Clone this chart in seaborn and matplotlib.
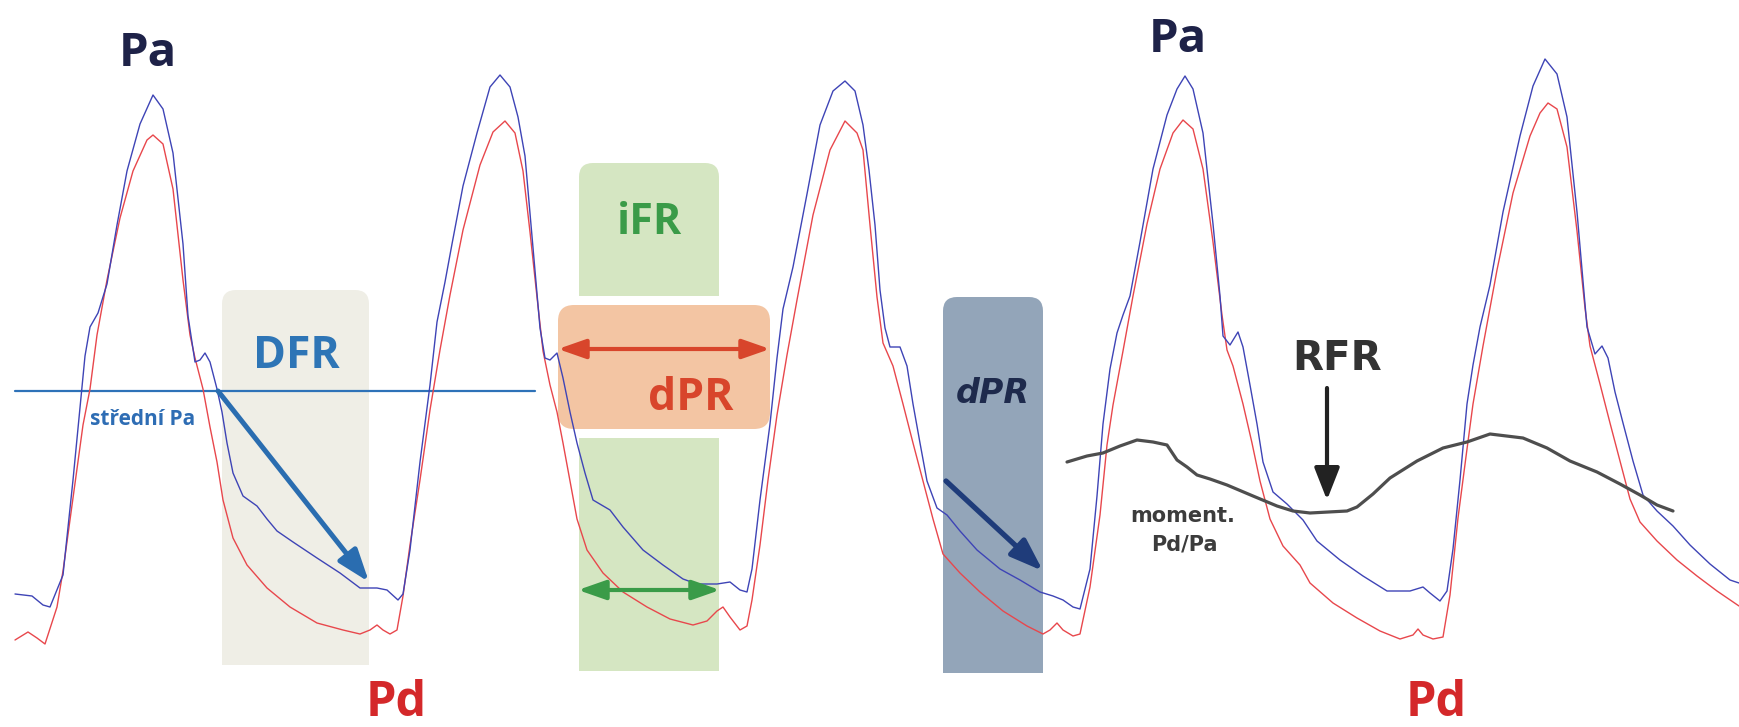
import matplotlib
matplotlib.use('Agg')
import matplotlib.pyplot as plt
from matplotlib.patches import FancyBboxPatch, Rectangle
import pandas as pd
import seaborn as sns

# Traces, in image pixels (x right, y down)
pa_x = [15, 32, 43, 50, 63, 73, 80, 85, 90, 98, 107, 117, 127, 140, 153, 163, 173, 183, 188,
        195, 200, 205, 210, 217, 222, 227, 233, 243, 257, 267, 277, 293, 317, 340, 360, 377, 387,
        398, 403, 410, 420, 430, 437, 445, 452, 463, 477, 490, 500, 510, 518, 525, 530, 535, 540, 545, 550,
        557, 563, 570, 577, 585, 593, 610, 623, 643, 663, 683, 697, 717, 730, 740, 747, 752, 760, 770, 777,
        783, 793, 807, 820, 833, 845, 855, 863, 869, 875, 880, 885, 890, 900, 907, 913, 920, 927, 937, 947,
        960, 977, 1000, 1020, 1040, 1053, 1063, 1073, 1080, 1090, 1097, 1103, 1110, 1117, 1123, 1130, 1140, 1153, 1167, 1177, 1185,
        1193, 1203, 1213, 1220, 1223, 1230, 1238, 1243, 1250, 1257, 1263, 1273, 1287, 1303, 1317, 1340, 1363, 1387, 1410, 1423,
        1430, 1440, 1447, 1453, 1460, 1467, 1473, 1480, 1490, 1503, 1520, 1533, 1545, 1557, 1567, 1577,
        1587, 1595, 1602, 1608, 1615, 1623, 1633, 1643, 1657, 1673, 1690, 1710, 1730, 1739]
pa_y = [594, 596, 605, 607, 575, 480, 407, 356, 327, 313, 284, 225, 171, 124, 95, 109, 153, 244, 316,
        362, 360, 353, 362, 389, 412, 443, 473, 496, 506, 519, 531, 542, 558, 573, 588, 588, 590,
        600, 594, 550, 462, 385, 322, 282, 244, 186, 133, 87, 75, 87, 117, 156, 213, 270, 328, 358, 360,
        353, 378, 412, 443, 473, 500, 510, 527, 550, 565, 579, 584, 584, 582, 590, 592, 569, 500, 424, 358,
        309, 267, 194, 125, 91, 81, 91, 125, 170, 225, 290, 328, 347, 347, 366, 404, 443, 481, 508, 515,
        531, 550, 569, 580, 592, 596, 600, 607, 609, 569, 496, 424, 369, 333, 315, 296, 242, 169, 115, 89, 76,
        89, 133, 224, 296, 336, 345, 332, 347, 385, 424, 462, 492, 504, 520, 541, 560, 576, 591, 591, 587,
        593, 601, 591, 549, 480, 404, 365, 327, 285, 212, 136, 86, 59, 74, 117, 212,
        327, 354, 346, 358, 392, 423, 461, 495, 511, 526, 545, 564, 580, 583]

pd_x = [15, 28, 37, 45, 57, 63, 73, 83, 90, 97, 107, 120, 133, 147, 153, 163, 173, 183, 190,
        195, 203, 210, 217, 223, 233, 247, 267, 290, 317, 343, 360, 370, 377, 383, 390, 397, 403, 410, 420, 430, 440,
        450, 463, 480, 493, 505, 515, 523, 530, 537, 543, 550, 557, 563, 570, 577, 587, 603, 623, 647, 670,
        693, 707, 717, 723, 730, 740, 747, 752, 760, 768, 777, 787, 797, 813, 830, 845, 857, 863, 870, 877,
        883, 893, 903, 913, 923, 933, 943, 960, 980, 1003, 1027, 1043, 1050, 1057, 1063, 1073, 1080, 1090, 1100, 1107,
        1113, 1123, 1133, 1147, 1160, 1173, 1183, 1193, 1203, 1213, 1222, 1227, 1233, 1243, 1252, 1260, 1270, 1283, 1300, 1310, 1333,
        1357, 1380, 1400, 1413, 1418, 1423, 1433, 1443, 1450, 1458, 1467, 1473, 1483, 1497, 1513, 1530, 1540, 1548, 1557, 1567,
        1577, 1585, 1590, 1600, 1610, 1620, 1630, 1640, 1657, 1677, 1697, 1717, 1739]
pd_y = [640, 632, 638, 644, 607, 571, 498, 425, 389, 335, 280, 218, 171, 140, 135, 144, 189, 280, 335,
        358, 389, 427, 462, 500, 538, 565, 588, 607, 623, 630, 634, 630, 625, 630, 634, 630, 596, 545, 480, 410, 350,
        295, 230, 165, 132, 121, 133, 171, 232, 297, 351, 385, 412, 443, 481, 519, 550, 573, 592, 607, 619,
        625, 621, 611, 607, 617, 630, 626, 600, 545, 480, 415, 355, 300, 215, 150, 121, 133, 150, 225, 297,
        343, 366, 404, 443, 481, 519, 554, 573, 592, 611, 626, 634, 630, 623, 630, 636, 634, 587, 515, 445,
        405, 351, 296, 224, 169, 133, 120, 129, 169, 242, 315, 350, 366, 404, 443, 481, 519, 546, 565, 583, 603,
        618, 631, 639, 635, 629, 635, 639, 637, 595, 518, 449, 404, 346, 270, 193, 136, 113, 103, 109, 147,
        231, 308, 346, 384, 423, 461, 499, 522, 541, 560, 576, 591, 606]

ratio_x = [1067, 1087, 1103, 1120, 1137, 1153, 1167, 1177, 1187, 1197, 1210, 1227, 1253, 1277, 1293, 1310, 1347,
           1357, 1373, 1390, 1417, 1443, 1467, 1490, 1523, 1547, 1570, 1597, 1620, 1640, 1657, 1673]
ratio_y = [462, 456, 453, 446, 440, 442, 445, 460, 467, 475, 479, 485, 496, 506, 511, 513, 511,
           507, 494, 478, 461, 448, 442, 434, 438, 448, 461, 472, 484, 495, 505, 511]

sns.set_theme(style='white')
plt.rcParams['font.family'] = ['Open Sans', 'DejaVu Sans']

W, H = 1739, 727
fig = plt.figure(figsize=(W / 100, H / 100), dpi=100)
ax = fig.add_axes([0, 0, 1, 1])


def top_rounded_box(x0, x1, y_top, y_bottom, color, r=14):
    ax.add_patch(FancyBboxPatch((x0, y_top), x1 - x0, y_bottom - y_top,
                                boxstyle=f'round,pad=0,rounding_size={r}',
                                fc=color, ec='none', zorder=1))
    ax.add_patch(Rectangle((x0, y_top + 2 * r), x1 - x0, y_bottom - y_top - 2 * r,
                           fc=color, ec='none', zorder=1))


# shaded windows
top_rounded_box(222, 369, 290, 665, '#EFEEE6')
top_rounded_box(579, 719, 163, 671, '#D5E6C2')
top_rounded_box(943, 1043, 297, 673, '#93A5B9')
ax.add_patch(FancyBboxPatch((549, 296), 230, 142, boxstyle='round,pad=0,rounding_size=20',
                            fc='white', ec='none', zorder=2))
ax.add_patch(FancyBboxPatch((558, 305), 212, 124, boxstyle='round,pad=0,rounding_size=16',
                            fc='#F3C5A3', ec='none', zorder=2))

# mean Pa line
ax.plot([15, 535], [391, 391], color='#2E72B8', lw=1.6, zorder=3)

# pressure traces
pa = pd.DataFrame({'x': pa_x, 'y': pa_y})
pdd = pd.DataFrame({'x': pd_x, 'y': pd_y})
ratio = pd.DataFrame({'x': ratio_x, 'y': ratio_y})
sns.lineplot(data=pdd, x='x', y='y', sort=False, estimator=None, color='#E8474C', lw=1.0, ax=ax, zorder=4)
sns.lineplot(data=pa, x='x', y='y', sort=False, estimator=None, color='#3E44B6', lw=1.0, ax=ax, zorder=5)
sns.lineplot(data=ratio, x='x', y='y', sort=False, estimator=None, color='#4E4E4E', lw=2.3, ax=ax, zorder=6)
ax.set_xlim(0, W)
ax.set_ylim(H, 0)
ax.axis('off')


def arrow(start, tip, color, lw, style='-|>', hl=1.4, hw=0.5, ms=14):
    ax.annotate('', xy=tip, xytext=start, zorder=7,
                arrowprops=dict(arrowstyle=f'{style},head_length={hl},head_width={hw}',
                                color=color, lw=lw, mutation_scale=ms,
                                shrinkA=0, shrinkB=0))


arrow((218, 391), (369, 582), '#2A6DB0', 3.6)
arrow((558, 349), (770, 349), '#D8452B', 3.0, style='<|-|>', hl=1.2, hw=0.42)
arrow((578, 590), (720, 590), '#3A9B48', 3.0, style='<|-|>', hl=1.2, hw=0.42)
arrow((946, 481), (1043, 571), '#1F3C7A', 3.8)
arrow((1327, 388), (1327, 500), '#222222', 3.0, hl=1.4, hw=0.55)

# labels
ax.text(148, 66, 'Pa', color='#1E2248', fontsize=34, fontweight='bold', ha='center', va='baseline', zorder=8)
ax.text(1178, 52, 'Pa', color='#1E2248', fontsize=34, fontweight='bold', ha='center', va='baseline', zorder=8)
ax.text(396, 716, 'Pd', color='#D4282A', fontsize=35, fontweight='bold', ha='center', va='baseline', zorder=8)
ax.text(1436, 716, 'Pd', color='#D4282A', fontsize=35, fontweight='bold', ha='center', va='baseline', zorder=8)
ax.text(296, 368, 'DFR', color='#2E75B6', fontsize=32, fontweight='bold', ha='center', va='baseline', zorder=8)
ax.text(90, 425, 'střední Pa', color='#2E6DB4', fontsize=15, fontweight='bold', ha='left', va='baseline', zorder=8)
ax.text(650, 234, 'iFR', color='#3A9B48', fontsize=31, fontweight='bold', ha='center', va='baseline', zorder=8)
ax.text(691, 410, 'dPR', color='#D8452B', fontsize=32, fontweight='bold', ha='center', va='baseline', zorder=8)
ax.text(993, 403, 'dPR', color='#1E2A4C', fontsize=24, fontweight='bold', style='italic',
        family=['DejaVu Sans'], ha='center', va='baseline', zorder=8)
ax.text(1337, 370, 'RFR', color='#333333', fontsize=29, fontweight='bold',
        family=['DejaVu Sans'], ha='center', va='baseline', zorder=8)
ax.text(1183, 522, 'moment.', color='#3C3C3C', fontsize=15, fontweight='bold',
        family=['DejaVu Sans'], ha='center', va='baseline', zorder=8)
ax.text(1184, 551, 'Pd/Pa', color='#3C3C3C', fontsize=15, fontweight='bold',
        family=['DejaVu Sans'], ha='center', va='baseline', zorder=8)

fig.savefig('out.png', dpi=100, facecolor='white')
